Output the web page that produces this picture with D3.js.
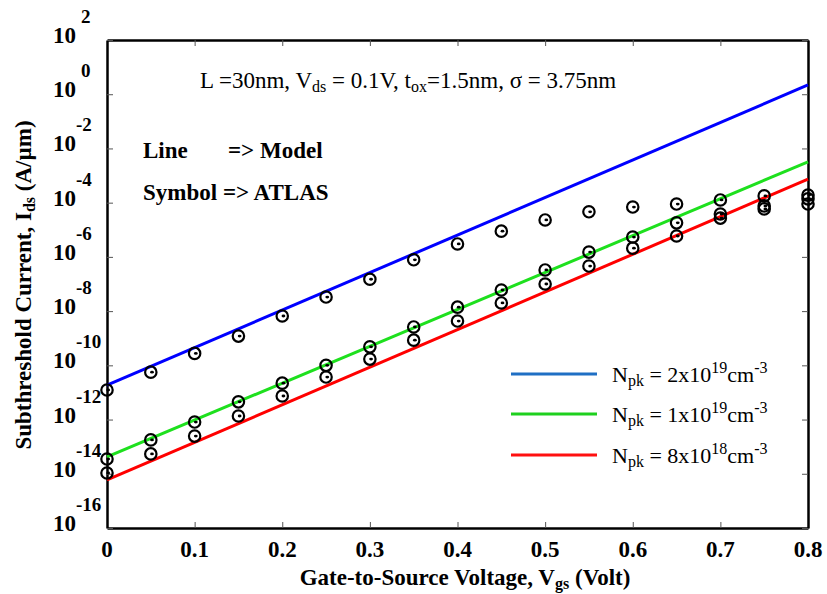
<!DOCTYPE html>
<html>
<head>
<meta charset="utf-8">
<script src="https://cdn.jsdelivr.net/npm/d3@7"></script>
<style>
  body { margin: 0; background: #fff; }
  svg { font-family: "Liberation Serif", "Times New Roman", serif; }
</style>
</head>
<body>
<svg id="chart" width="827" height="594"></svg>
<script>
// gate voltage of the ATLAS points
const vgs = [0, 0.05, 0.1, 0.15, 0.2, 0.25, 0.3, 0.35, 0.4, 0.45, 0.5, 0.55, 0.6, 0.65, 0.7, 0.75, 0.8];

// ATLAS symbols, Ids (A/um)
const atlas2e19 = [1.23e-11, 5.6e-11, 2.75e-10, 1.2e-9, 6.6e-9, 3.3e-8, 1.5e-7, 7.8e-7, 3.0e-6, 8.9e-6,
                   2.3e-5, 4.6e-5, 6.9e-5, 8.9e-5, 1.26e-4, 1.78e-4, 1.9e-4];
const atlas1e19 = [3.5e-14, 1.78e-13, 8.1e-13, 4.5e-12, 2.2e-11, 1.0e-10, 4.8e-10, 2.6e-9, 1.4e-8, 6.0e-8,
                   3.3e-7, 1.5e-6, 5.4e-6, 1.8e-5, 3.8e-5, 7.6e-5, 1.38e-4];
const atlas8e18 = [1.07e-14, 5.4e-14, 2.45e-13, 1.35e-12, 7.4e-12, 3.7e-11, 1.7e-10, 8.5e-10, 4.3e-9, 2.0e-8,
                   1.0e-7, 4.6e-7, 2.1e-6, 5.9e-6, 2.7e-5, 5.9e-5, 8.9e-5];

// model lines (straight on log axis, end points)
const modelV = [0, 0.8];
const model2e19 = [1.86e-11, 2.19];
const model1e19 = [4.2e-14, 3.2e-3];
const model8e18 = [5.9e-15, 7.4e-4];

const xTicks = [0, 0.1, 0.2, 0.3, 0.4, 0.5, 0.6, 0.7, 0.8];
const yTicks = [1e2, 1e0, 1e-2, 1e-4, 1e-6, 1e-8, 1e-10, 1e-12, 1e-14, 1e-16];

const series = [
  { model: model2e19, atlas: atlas2e19, color: "#0000ff", legColor: "#1f6fc4", exp: "19", mant: "2" },
  { model: model1e19, atlas: atlas1e19, color: "#1ee01e", legColor: "#1ed01e", exp: "19", mant: "1" },
  { model: model8e18, atlas: atlas8e18, color: "#ff0000", legColor: "#ff1010", exp: "18", mant: "8" }
];

const m = { left: 107, right: 808, top: 40, bottom: 528 };
const svg = d3.select("#chart");

const x = d3.scaleLinear().domain([0, 0.8]).range([m.left, m.right]);
const y = d3.scaleLog().domain([1e-16, 1e2]).range([m.bottom, m.top]);

// axes: ticks point inwards
const axisStyle = g => {
  g.selectAll("path.domain").attr("stroke", "#000").attr("stroke-width", 2.5);
  g.selectAll(".tick line").attr("stroke", "#555").attr("stroke-width", 1);
};
svg.append("g").attr("transform", `translate(0,${m.bottom})`)
  .call(d3.axisBottom(x).tickValues(xTicks).tickSize(-6).tickSizeOuter(0).tickFormat(""))
  .call(axisStyle);
svg.append("g").attr("transform", `translate(0,${m.top})`)
  .call(d3.axisTop(x).tickValues(xTicks).tickSize(-6).tickSizeOuter(0).tickFormat(""))
  .call(axisStyle);
svg.append("g").attr("transform", `translate(${m.left},0)`)
  .call(d3.axisLeft(y).tickValues(yTicks).tickSize(-6).tickSizeOuter(0).tickFormat(""))
  .call(axisStyle);
svg.append("g").attr("transform", `translate(${m.right},0)`)
  .call(d3.axisRight(y).tickValues(yTicks).tickSize(-6).tickSizeOuter(0).tickFormat(""))
  .call(axisStyle);

// x tick labels
svg.append("g").selectAll("text").data(xTicks).join("text")
  .attr("x", d => x(d)).attr("y", 557)
  .attr("text-anchor", "middle")
  .attr("font-size", 23).attr("font-weight", "bold")
  .text(d => d === 0 ? "0" : d3.format(".1f")(d));

// y tick labels 10^n
const yl = svg.append("g").selectAll("g").data(yTicks).join("g");
yl.append("text")
  .attr("x", 76).attr("y", d => y(d) + 3)
  .attr("text-anchor", "end")
  .attr("font-size", 23).attr("font-weight", "bold")
  .text("10");
yl.append("text")
  .attr("x", d => Math.log10(d) < 0 ? 76 : 81).attr("y", d => y(d) - 17)
  .attr("font-size", 19).attr("font-weight", "bold")
  .text(d => String(Math.round(Math.log10(d))));

// axis titles
const yt = svg.append("text")
  .attr("transform", "translate(31,285) rotate(-90)")
  .attr("text-anchor", "middle")
  .attr("font-size", 23).attr("font-weight", "bold");
yt.append("tspan").text("Subthreshold Current, I");
yt.append("tspan").attr("font-size", 16).attr("dy", 4).text("ds");
yt.append("tspan").attr("dy", -4).text(" (A/\u00b5m)");

const xt = svg.append("text")
  .attr("x", 465).attr("y", 585)
  .attr("text-anchor", "middle")
  .attr("font-size", 23).attr("font-weight", "bold");
xt.append("tspan").text("Gate-to-Source Voltage, V");
xt.append("tspan").attr("font-size", 16).attr("dy", 4).text("gs");
xt.append("tspan").attr("dy", -4).text(" (Volt)");

// model lines
const line = d3.line().x((d, i) => x(modelV[i])).y(d => y(d));
svg.append("g").selectAll("path").data(series).join("path")
  .attr("d", s => line(s.model))
  .attr("fill", "none")
  .attr("stroke", s => s.color)
  .attr("stroke-width", 3);

// ATLAS symbols: open circle with a dot
series.forEach(s => {
  const g = svg.append("g").selectAll("g").data(s.atlas).join("g")
    .attr("transform", (d, i) => `translate(${x(vgs[i])},${y(d)})`);
  g.append("circle").attr("r", 5.7).attr("fill", "none").attr("stroke", "#000").attr("stroke-width", 2.2);
  g.append("ellipse").attr("cx", 1.2).attr("rx", 1.9).attr("ry", 1.4).attr("fill", "#000");
});

// annotations
const ann = svg.append("text").attr("x", 200).attr("y", 88).attr("font-size", 23);
ann.append("tspan").text("L =30nm, V");
ann.append("tspan").attr("font-size", 16).attr("dy", 4).text("ds");
ann.append("tspan").attr("dy", -4).text(" = 0.1V, t");
ann.append("tspan").attr("font-size", 16).attr("dy", 4).text("ox");
ann.append("tspan").attr("dy", -4).text("=1.5nm, \u03c3 = 3.75nm");

svg.append("text").attr("x", 143).attr("y", 158).attr("font-size", 23).attr("font-weight", "bold").text("Line");
svg.append("text").attr("x", 228).attr("y", 158).attr("font-size", 23).attr("font-weight", "bold").text("=> Model");
svg.append("text").attr("x", 143).attr("y", 200).attr("font-size", 23).attr("font-weight", "bold").text("Symbol => ATLAS");

// legend
const legY = [374, 414, 455];
const leg = svg.append("g").selectAll("g").data(series).join("g")
  .attr("transform", (d, i) => `translate(0,${legY[i]})`);
leg.append("line").attr("x1", 511).attr("x2", 597)
  .attr("stroke", s => s.legColor).attr("stroke-width", 3);
const lt = leg.append("text").attr("x", 612).attr("y", 8).attr("font-size", 22);
lt.append("tspan").text("N");
lt.append("tspan").attr("font-size", 16).attr("dy", 4).text("pk");
lt.append("tspan").attr("dy", -4).text(s => ` = ${s.mant}x10`);
lt.append("tspan").attr("font-size", 16).attr("dy", -9).text(s => s.exp);
lt.append("tspan").attr("dy", 9).text("cm");
lt.append("tspan").attr("font-size", 16).attr("dy", -9).text("-3");
</script>
</body>
</html>
